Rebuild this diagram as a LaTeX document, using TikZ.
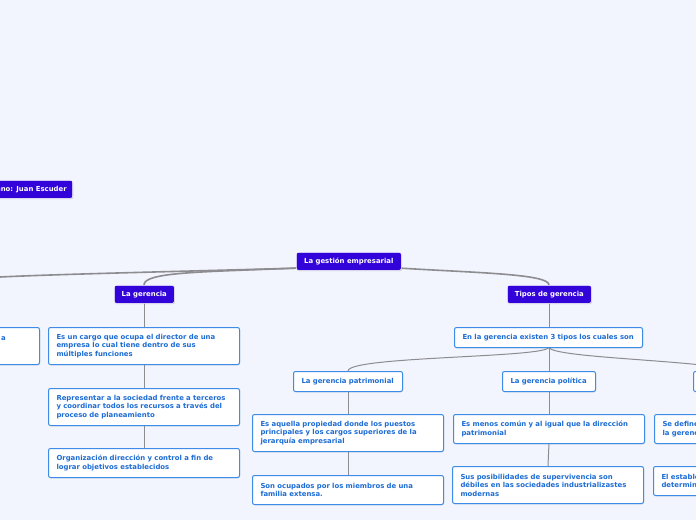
\documentclass[tikz,border=0pt]{standalone}
\usepackage{fontspec}
\setmainfont{DejaVu Sans}
\usetikzlibrary{shadows}
\definecolor{bg}{RGB}{242,245,253}
\definecolor{dk}{RGB}{50,4,218}
\definecolor{bl}{RGB}{62,140,232}
\definecolor{tx}{RGB}{28,108,212}
\definecolor{ln}{RGB}{140,140,145}
\tikzset{
  dark/.style={fill=dk, draw=white, line width=0.6pt, rounded corners=2pt, text=white,
    font=\bfseries\fontsize{6.9}{8.5}\selectfont, inner sep=0pt, anchor=north west,
    drop shadow={shadow xshift=0.6pt, shadow yshift=-0.8pt, opacity=0.35}},
  box/.style={fill=white, draw=bl, line width=1pt, rounded corners=2pt, text=tx,
    font=\bfseries\fontsize{6.9}{8.5}\selectfont, inner xsep=8pt, inner ysep=0pt,
    align=left, anchor=north west, text width=175pt,
    drop shadow={shadow xshift=0.6pt, shadow yshift=-0.8pt, opacity=0.25}},
  conn/.style={draw=ln, line width=1.6pt},
  thin/.style={draw=ln, line width=1pt},
}
\begin{document}
\begin{tikzpicture}[x=1pt,y=-1pt]
\fill[bg] (0,0) rectangle (696,520);
\useasboundingbox (0,0) rectangle (696,520);

\coordinate (lftend) at (0,277);

% connectors first (nodes drawn on top)
\coordinate (rs) at (300,268);
\coordinate (re) at (398,268);
\draw[conn] (rs) .. controls (200,271) and (60,274) .. (lftend);
\draw[conn] (rs) .. controls (200,272) and (144,272) .. (144,285);
\draw[conn] (re) .. controls (480,273) and (549,274) .. (549,285);
\draw[thin] (144,303) -- (144,327);
\draw[thin] (144,364) -- (144,388);
\draw[thin] (144,425) -- (144,448);
\draw[thin] (549,303) -- (549,327);
\draw[thin] (549,347) .. controls (549,358) and (348,356) .. (348,371);
\draw[thin] (549,347) -- (549,371);
\draw[thin] (549,347) .. controls (549,358) and (700,360) .. (740,371);
\draw[thin] (348,391) -- (348,414);
\draw[thin] (348,451) -- (348,475);
\draw[thin] (549,391) -- (549,414);
\draw[thin] (549,443) -- (548,466);

% dark nodes
\node[dark, minimum width=105, minimum height=18] (root) at (296,252) {La gestión empresarial};
\node[dark, minimum width=60, minimum height=18] (ger) at (114,285) {La gerencia};
\node[dark, minimum width=84, minimum height=18] (tip) at (507,285) {Tipos de gerencia};
\node[dark, minimum height=18, anchor=north east, inner xsep=6pt] (alu) at (73,180) {Alumno: Juan Escuder};

% left branch
\node[box, minimum width=191, minimum height=37] (c1) at (48,327) {Es un cargo que ocupa el director de una\\empresa lo cual tiene dentro de sus\\múltiples funciones};
\node[box, minimum width=191, minimum height=37] (c2) at (48,388) {Representar a la sociedad frente a terceros\\y coordinar todos los recursos a través del\\proceso de planeamiento};
\node[box, minimum width=191, minimum height=29] (c3) at (48,448) {Organización dirección y control a fin de\\lograr objetivos establecidos};
\node[box, minimum width=190, minimum height=37] (lbox) at (-152,327) {};
\node[text=tx, font=\bfseries\fontsize{6.9}{8.5}\selectfont, anchor=base west, inner sep=0pt] (la) at (1,340) {a};

% right branch
\node[box, text width=172pt, minimum width=188, minimum height=20] (e1) at (454,327) {En la gerencia existen 3 tipos los cuales son};
\node[box, text width=93pt, minimum width=109, minimum height=20] (pat) at (293,371) {La gerencia patrimonial};
\node[box, text width=77pt, minimum width=93, minimum height=20] (pol) at (502,371) {La gerencia política};
\node[box, text width=84pt, minimum width=100, minimum height=20] (ter) at (693,371) {};

\node[box, minimum width=191, minimum height=37] (p1) at (252,414) {Es aquella propiedad donde los puestos\\principales y los cargos superiores de la\\jerarquía empresarial};
\node[box, minimum width=191, minimum height=29] (p2) at (252,475) {Son ocupados por los miembros de una\\familia extensa.};
\node[box, minimum width=191, minimum height=29] (q1) at (453,414) {Es menos común y al igual que la dirección\\patrimonial};
\node[box, minimum width=191, minimum height=37] (q2) at (452,466) {Sus posibilidades de supervivencia son\\débiles en las sociedades industrializastes\\modernas};
\node[box, minimum width=191, minimum height=29] (r1) at (654,414) {Se define\\la gerencia};
\node[box, minimum width=191, minimum height=29] (r2) at (653,466) {El establecimiento\\determina};
\end{tikzpicture}
\end{document}
